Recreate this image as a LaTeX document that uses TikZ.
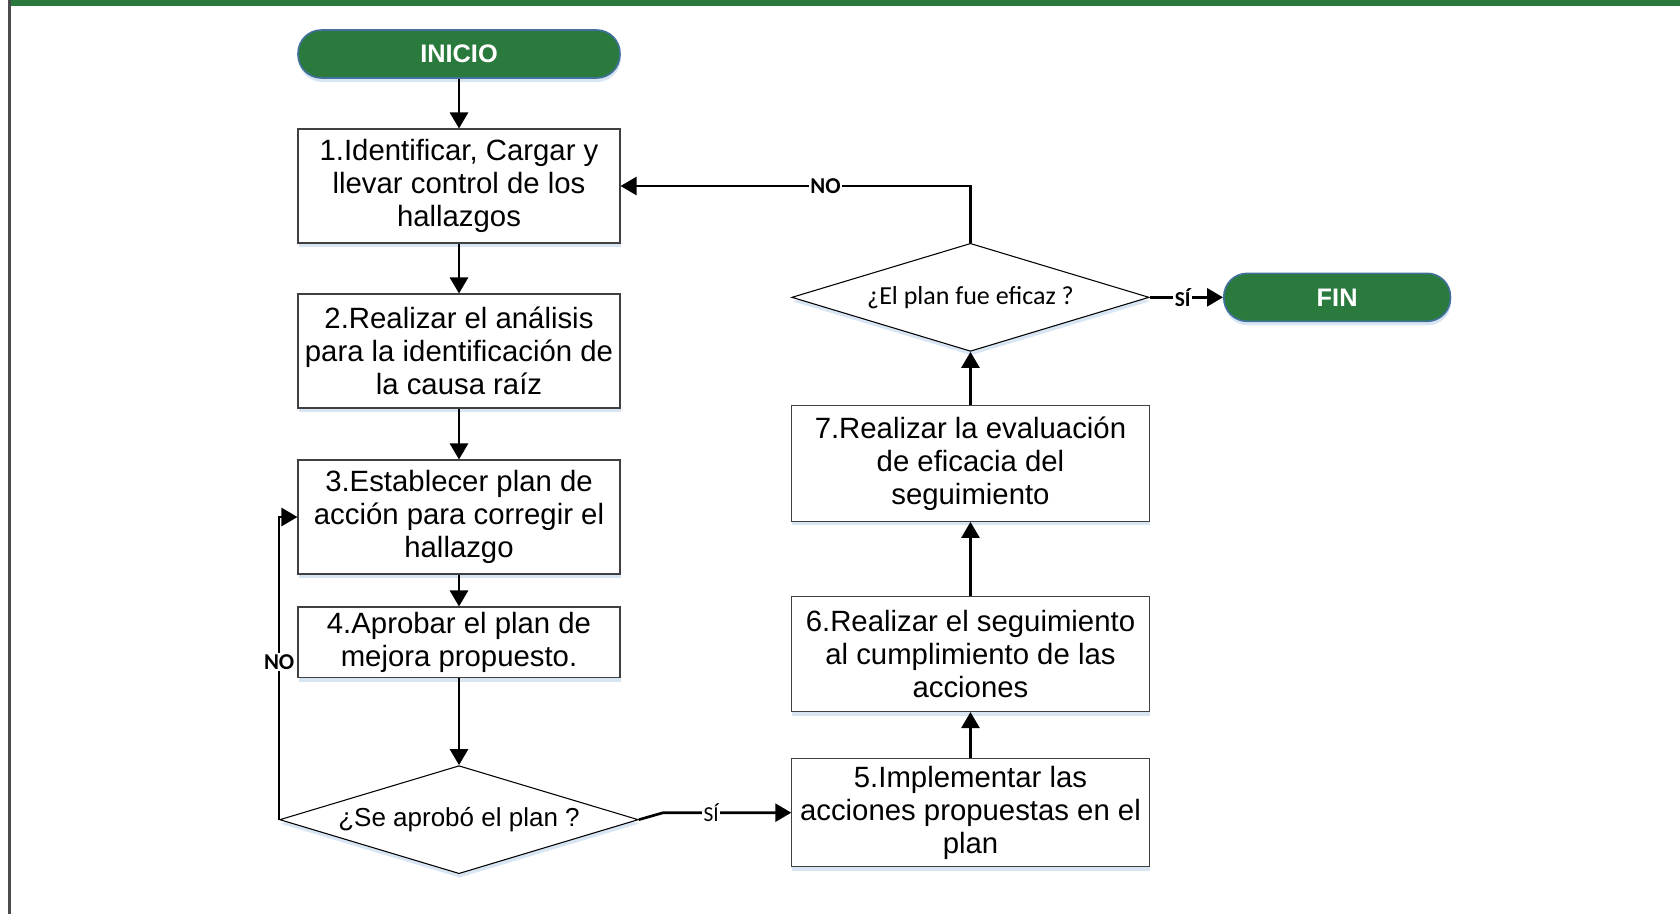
\documentclass[tikz,border=0pt]{standalone}
\usepackage{fontspec}
\setmainfont{Liberation Sans}
\newfontfamily\calibri{Carlito}
\usetikzlibrary{arrows.meta,shapes.geometric,shadows}

\definecolor{verdeini}{RGB}{43,122,61}
\definecolor{bordeini}{RGB}{65,113,156}
\definecolor{sombraazul}{RGB}{200,218,238}

\begin{document}
\begin{tikzpicture}[>={Triangle[length=12pt,width=13.5pt]},
    con sombra/.style={drop shadow={shadow xshift=0.5pt,shadow yshift=-3pt,fill=sombraazul,opacity=0.7}},
    proceso/.style={rectangle,draw=black!75,line width=0.8pt,fill=white,align=center,
      font=\fontsize{22}{24.75}\selectfont,minimum width=241.5pt,minimum height=85.5pt,
      inner sep=1pt,con sombra},
    decision/.style={diamond,draw=black,line width=0.8pt,fill=white,inner sep=0pt,aspect=3.3,
      minimum width=269pt,minimum height=81pt,con sombra},
    terminal/.style={rectangle,rounded corners=17.5pt,draw=bordeini,line width=1.2pt,fill=verdeini,
      text=white,font=\bfseries\fontsize{19}{22}\selectfont,minimum height=36pt,con sombra},
    flecha/.style={draw,->,line width=2pt},
    etiq/.style={fill=white,inner sep=1pt,font=\calibri\bfseries\fontsize{17}{20}\selectfont}]

  % marco
  \useasboundingbox (0,0) rectangle (1260pt,-685.5pt);
  \fill[verdeini] (7pt,0) rectangle (1260pt,-4.5pt);
  \draw[black!70,line width=2.2pt] (7.3pt,0) -- (7.3pt,-685.5pt);

  % columna izquierda
  \node[terminal,minimum width=241.5pt] (ini) at (344.25pt,-40.5pt) {INICIO};
  \node[proceso] (b1) [below of=ini,node distance=99pt] {1.Identificar, Cargar y\\llevar control de los\\hallazgos};
  \node[proceso] (b2) [below of=b1,node distance=123.75pt] {2.Realizar el análisis\\para la identificación de\\la causa raíz};
  \node[proceso] (b3) [below of=b2,node distance=124.5pt] {3.Establecer plan de\\acción para corregir el\\hallazgo};
  \node[proceso,minimum height=53pt] (b4) [below of=b3,node distance=94pt] {4.Aprobar el plan de\\mejora propuesto.};
  \node[decision] (d1) [below of=b4,node distance=133pt] {\fontsize{19.5}{22}\selectfont ¿Se aprobó el plan ?};

  % columna derecha
  \node[proceso,minimum width=268pt,minimum height=81pt] (b5) [right of=d1,node distance=383.6pt,yshift=5.25pt] {5.Implementar las\\acciones propuestas en el\\plan};
  \node[proceso,minimum width=268pt,minimum height=86.25pt] (b6) [above of=b5,node distance=119pt] {6.Realizar el seguimiento\\al cumplimiento de las\\acciones};
  \node[proceso,minimum width=268pt,minimum height=87pt] (b7) [above of=b6,node distance=143pt] {7.Realizar la evaluación\\de eficacia del\\seguimiento};
  \node[decision,minimum width=268pt] (d2) [above of=b7,node distance=124.5pt] {\calibri\fontsize{19.5}{22}\selectfont ¿El plan fue eficaz ?};
  \node[terminal,minimum width=170pt] (fin) [right of=d2,node distance=275pt] {FIN};

  % flujo
  \path[every edge/.append style={->,line width=2pt}]
    (ini) edge (b1)
    (b1) edge (b2)
    (b2) edge (b3)
    (b3) edge (b4)
    (b4) edge (d1)
    (b5) edge (b6)
    (b6) edge (b7)
    (b7) edge (d2);

  % decisiones
  \draw[flecha] (d1.west) |- node[etiq,pos=0.26] {NO} (b3.west);
  \draw[flecha] (d2.north) |- node[etiq,pos=0.707] {NO} (b1.east);
  \draw[flecha] (d1.east) -- ([xshift=-96pt]b5.west)
    -- node[etiq,pos=0.375,font=\calibri\fontsize{16}{18}\selectfont] {SÍ} (b5.west);
  \draw[flecha] (d2.east) -- node[etiq,pos=0.45,font=\calibri\bfseries\fontsize{16}{18}\selectfont] {SÍ} (fin.west);
\end{tikzpicture}
\end{document}
